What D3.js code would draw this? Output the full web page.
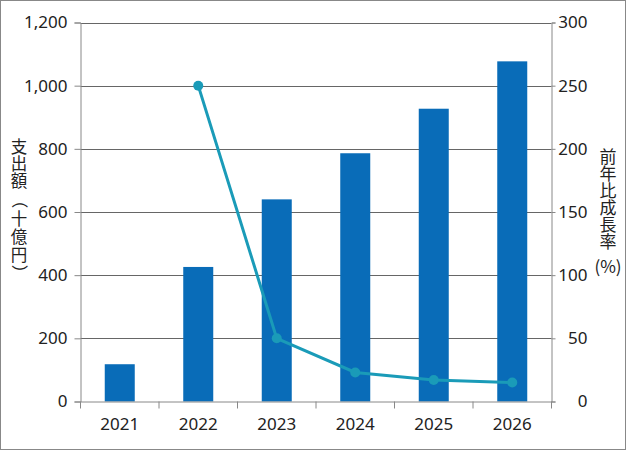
<!DOCTYPE html>
<html><head><meta charset="utf-8">
<script src="https://cdn.jsdelivr.net/npm/d3@7"></script>
<style>
html,body{margin:0;padding:0;background:#fff;}
svg{display:block;}
text{font-family:"Noto Sans CJK JP","Noto Sans",sans-serif;fill:#222;}
</style></head>
<body>
<svg id="chart" width="626" height="450"></svg>
<script>
const years = ["2021","2022","2023","2024","2025","2026"];
const spending = [118, 426, 640, 786, 927, 1077];
const growth = [null, 250, 50, 23, 17, 15];
const leftTicks = [0,200,400,600,800,1000,1200];
const rightTicks = [0,50,100,150,200,250,300];
const leftLabel = "支出額（十億円）";
const rightLabel = "前年比成長率";
const rightLabelUnit = "(%)";

const svg = d3.select("#chart");
const W = 626, H = 450;
const m = {l:80.5, r:551.5, t:22.5, b:401.5};

svg.append("rect").attr("x",0.5).attr("y",0.5).attr("width",W-1).attr("height",H-1)
  .attr("fill","#fff").attr("stroke","#888");

const x = d3.scaleBand().domain(years).range([m.l, m.r]).paddingInner(0).paddingOuter(0);
const yL = d3.scaleLinear().domain([0,1200]).range([m.b, m.t]);
const yR = d3.scaleLinear().domain([0,300]).range([m.b, m.t]);

// gridlines
svg.append("g").selectAll("line").data(leftTicks.filter(d=>d>0)).join("line")
  .attr("x1",m.l).attr("x2",m.r).attr("y1",d=>Math.round(yL(d))+0.5).attr("y2",d=>Math.round(yL(d))+0.5)
  .attr("stroke","#666").attr("stroke-width",1);

// left axis
const gl = svg.append("g").attr("transform",`translate(${m.l},0)`)
  .call(d3.axisLeft(yL).tickValues(leftTicks).tickFormat(d3.format(",")).tickSize(6).tickPadding(7));
gl.select(".domain").attr("stroke","#888");
gl.selectAll(".tick line").attr("stroke","#888");
gl.selectAll(".tick text").attr("font-size",17).attr("fill","#222").style("font-family","'Noto Sans','DejaVu Sans',sans-serif");

// right axis
const gr = svg.append("g").attr("transform",`translate(${m.r},0)`)
  .call(d3.axisRight(yR).tickValues(rightTicks).tickSize(4).tickPadding(0));
gr.select(".domain").attr("stroke","#888");
gr.selectAll(".tick line").attr("stroke","#888");
gr.selectAll(".tick text").attr("font-size",17).attr("fill","#222").attr("text-anchor","end").attr("x",36)
  .style("font-family","'Noto Sans','DejaVu Sans',sans-serif");

// bars
const bw = 30;
svg.append("g").selectAll("rect").data(years).join("rect")
  .attr("x",(d)=>x(d)+x.bandwidth()/2-bw/2)
  .attr("y",(d,i)=>yL(spending[i]))
  .attr("width",bw)
  .attr("height",(d,i)=>yL(0)-yL(spending[i]))
  .attr("fill","#096cb8");

// x axis
const gx = svg.append("g").attr("transform",`translate(0,${m.b})`)
  .call(d3.axisBottom(x).tickSize(0).tickPadding(16));
gx.select(".domain").attr("stroke","#888");
gx.selectAll(".tick text").attr("font-size",17).attr("fill","#222").style("font-family","'Noto Sans','DejaVu Sans',sans-serif");
// boundary ticks
const bounds = years.map(d=>x(d)).concat([m.r]);
svg.append("g").selectAll("line").data(bounds).join("line")
  .attr("x1",d=>d).attr("x2",d=>d).attr("y1",m.b).attr("y2",m.b+7)
  .attr("stroke","#888");

// growth line
const pts = years.map((d,i)=>({x:x(d)+x.bandwidth()/2, v:growth[i]})).filter(p=>p.v!==null);
svg.append("path").datum(pts)
  .attr("d", d3.line().x(p=>p.x).y(p=>yR(p.v)))
  .attr("fill","none").attr("stroke","#1a9bb8").attr("stroke-width",3);
svg.append("g").selectAll("circle").data(pts).join("circle")
  .attr("cx",p=>p.x).attr("cy",p=>yR(p.v)).attr("r",5).attr("fill","#1a9bb8");

// left label: stacked vertical characters, brackets rotated
(function(){
  const em = 16.5, cx = 19;
  const chars = Array.from(leftLabel);
  const centers = [147, 164, 181, 200, 219, 237, 255, 273];
  const xs = [], ys = [], rs = [];
  chars.forEach((c,i)=>{
    const isParen = (c==="（"||c==="）");
    if(isParen){ xs.push(cx-0.38*em); ys.push(centers[i]-0.5*em); rs.push(90); }
    else { xs.push(cx-0.5*em); ys.push(centers[i]+0.38*em); rs.push(0); }
  });
  svg.append("text").attr("x",xs.join(" ")).attr("y",ys.join(" ")).attr("rotate",rs.join(" "))
    .attr("font-size",em).text(leftLabel);
})();

// right label (vertical)
svg.append("text").attr("x",608).attr("y",199)
  .style("writing-mode","vertical-rl").style("text-orientation","mixed")
  .attr("text-anchor","middle").attr("font-size",17).text(rightLabel);
svg.append("text").attr("x",608).attr("y",273).attr("text-anchor","middle").attr("font-size",17).text(rightLabelUnit);
</script>
</body></html>
